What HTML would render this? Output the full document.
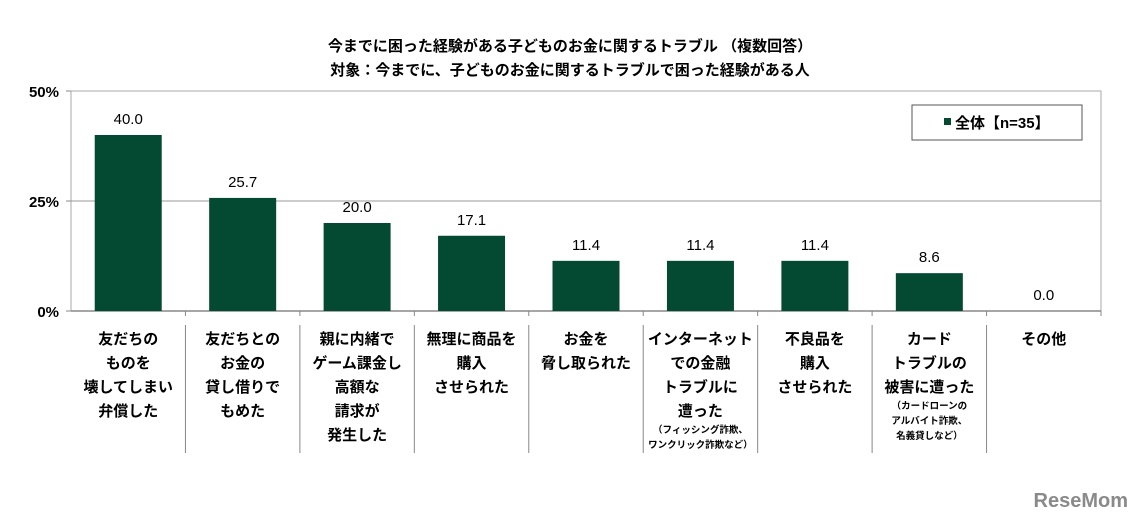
<!DOCTYPE html>
<html><head><meta charset="utf-8"><style>
body{margin:0;width:1140px;height:527px;background:#fff;overflow:hidden;font-family:"Liberation Sans","Noto Sans CJK JP",sans-serif;}
svg text{font-family:"Liberation Sans","Noto Sans CJK JP",sans-serif;}
</style></head><body>
<svg id="c" width="1140" height="527">
<text x="570" y="51" text-anchor="middle" font-size="15" font-weight="bold">今までに困った経験がある子どものお金に関するトラブル （複数回答）</text>
<text x="570" y="75" text-anchor="middle" font-size="15" font-weight="bold">対象：今までに、子どものお金に関するトラブルで困った経験がある人</text>
<g><text x="1128" y="507" text-anchor="end" font-size="20" font-weight="bold" fill="#8a8a8a">ReseMom</text></g>
</svg>
<script>
const categories=[["友だちの","ものを","壊してしまい","弁償した"],["友だちとの","お金の","貸し借りで","もめた"],["親に内緒で","ゲーム課金し","高額な","請求が","発生した"],["無理に商品を","購入","させられた"],["お金を","脅し取られた"],["インターネット","での金融","トラブルに","遭った"],["不良品を","購入","させられた"],["カード","トラブルの","被害に遭った"],["その他"]];
const notes=[[],[],[],[],[],["（フィッシング詐欺、","ワンクリック詐欺など）"],[],["（カードローンの","アルバイト詐欺、","名義貸しなど）"],[]];
const values=[40.0,25.7,20.0,17.1,11.4,11.4,11.4,8.6,0.0];
const yTicks=[0,25,50];
const yTickLabels=["0%","25%","50%"];
const svg=document.getElementById('c');const NS='http://www.w3.org/2000/svg';
const L=71,R=1101,T=91,B=311,n=values.length,cw=(R-L)/n,bw=67;
const y=v=>B-(v/50)*(B-T);const x=i=>L+i*cw;
function mk(t,a,p){const e=document.createElementNS(NS,t);for(const k in a)e.setAttribute(k,a[k]);(p||svg).appendChild(e);return e;}
const pa=mk('rect',{x:L,y:T,width:R-L,height:B-T,fill:'none',stroke:'#aaa','stroke-width':1});


yTicks.forEach((t,i)=>{
 if(t>0&&t<50){const g=mk('line',{x1:L,x2:R,y1:y(t),y2:y(t),stroke:'#999'});
 
 }
 const tk=mk('line',{x1:L-5,x2:L,y1:y(t),y2:y(t),stroke:'#888'});
 
 
 const lb=mk('text',{x:L-12,y:y(t)+6,'text-anchor':'end','font-size':15,'font-weight':'bold'});lb.textContent=yTickLabels[i];
 
 
});
const ax=mk('line',{x1:L,x2:R,y1:B,y2:B,stroke:'#888','stroke-width':1.5});


values.forEach((v,i)=>{
 const cx=x(i)+cw/2;
 if(v>0){const r=mk('rect',{x:cx-bw/2,y:y(v),width:bw,height:B-y(v),fill:'#044a32'});
 
 }
 const t=mk('text',{x:cx,y:y(v)-11,'text-anchor':'middle','font-size':15});t.textContent=v.toFixed(1);
 
 
 const tk=mk('line',{x1:x(i+1),x2:x(i+1),y1:B,y2:B+5,stroke:'#888'});
 
 
 if(i<n-1){const d=mk('line',{x1:x(i+1),x2:x(i+1),y1:325,y2:453,stroke:'#888'});
 
 }
 const g=mk('g',{});
 
 
 categories[i].forEach((s,j)=>{const tt=mk('text',{x:cx,y:344+j*24,'text-anchor':'middle','font-size':15,'font-weight':'bold'},g);tt.textContent=s;});
 const nt=notes[i]||[];const base=344+categories[i].length*24-7;
 nt.forEach((s,j)=>{const tt=mk('text',{x:cx,y:base+j*15,'text-anchor':'middle','font-size':9.5,'font-weight':'bold'},g);tt.textContent=s;});
});
const lg=mk('g',{});


mk('rect',{x:912,y:105,width:170,height:35,fill:'#fff',stroke:'#555'},lg);
mk('rect',{x:944,y:118,width:7,height:7,fill:'#044a32'},lg);
const lt=mk('text',{x:955,y:128,'font-size':15,'font-weight':'bold'},lg);lt.textContent='全体【n=35】';
</script>
</body></html>
